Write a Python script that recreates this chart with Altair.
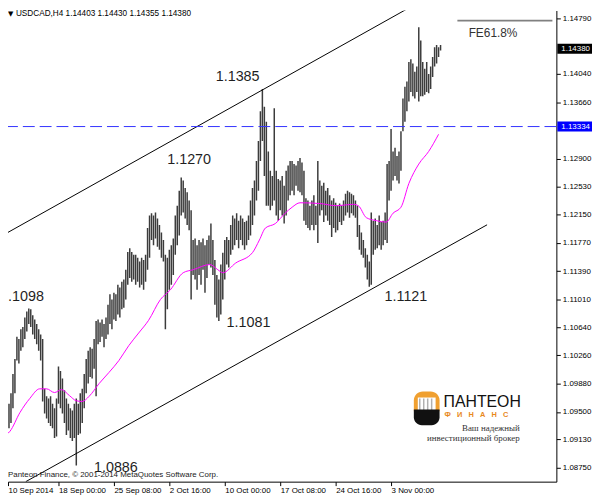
import altair as alt
import pandas as pd

# ---------------- data ----------------
bar_high = [
    1.0988, 1.0945, 1.0952, 1.0961, 1.0975, 1.1001, 1.1021, 1.1051, 1.1048, 1.1061,
    1.1064, 1.1077, 1.1085, 1.1089, 1.1088, 1.1080, 1.1074, 1.1068, 1.1061, 1.1054,
    1.1048, 1.0981, 1.0971, 1.0968, 1.0971, 1.0961, 1.0955, 1.0968, 1.1011, 1.1005,
    1.0995, 1.0979, 1.0968, 1.0961, 1.0955, 1.0952, 1.0961, 1.0968, 1.0961, 1.0975,
    1.0981, 1.1001, 1.1021, 1.1032, 1.1037, 1.1035, 1.1048, 1.1072, 1.1074, 1.1070,
    1.1074, 1.1068, 1.1077, 1.1094, 1.1108, 1.1101, 1.1110, 1.1108, 1.1121, 1.1117,
    1.1125, 1.1128, 1.1141, 1.1165, 1.1170, 1.1165, 1.1161, 1.1161, 1.1157, 1.1152,
    1.1157, 1.1154, 1.1161, 1.1197, 1.1214, 1.1217, 1.1214, 1.1218, 1.1210, 1.1201,
    1.1191, 1.1181, 1.1161, 1.1157, 1.1168, 1.1174, 1.1183, 1.1214, 1.1227, 1.1247,
    1.1265, 1.1261, 1.1251, 1.1245, 1.1234, 1.1221, 1.1181, 1.1183, 1.1174, 1.1181,
    1.1178, 1.1183, 1.1174, 1.1181, 1.1187, 1.1203, 1.1181, 1.1154, 1.1134, 1.1128,
    1.1148, 1.1164, 1.1181, 1.1185, 1.1181, 1.1201, 1.1214, 1.1210, 1.1217, 1.1207,
    1.1214, 1.1210, 1.1205, 1.1207, 1.1214, 1.1234, 1.1251, 1.1261, 1.1287, 1.1314,
    1.1354, 1.1384, 1.1360, 1.1340, 1.1300, 1.1274, 1.1267, 1.1358, 1.1274, 1.1263,
    1.1261, 1.1267, 1.1254, 1.1274, 1.1281, 1.1287, 1.1287, 1.1283, 1.1281, 1.1287,
    1.1291, 1.1285, 1.1274, 1.1237, 1.1234, 1.1227, 1.1234, 1.1241, 1.1227, 1.1287,
    1.1261, 1.1254, 1.1258, 1.1247, 1.1251, 1.1241, 1.1234, 1.1237, 1.1231, 1.1227,
    1.1230, 1.1227, 1.1234, 1.1243, 1.1247, 1.1245, 1.1243, 1.1241, 1.1234, 1.1227,
    1.1201, 1.1191, 1.1181, 1.1170, 1.1161, 1.1152, 1.1218, 1.1207, 1.1210, 1.1201,
    1.1214, 1.1205, 1.1207, 1.1218, 1.1283, 1.1287, 1.1330, 1.1300, 1.1305, 1.1294,
    1.1300, 1.1327, 1.1371, 1.1387, 1.1394, 1.1420, 1.1424, 1.1418, 1.1407, 1.1414,
    1.1467, 1.1449, 1.1420, 1.1411, 1.1420, 1.1404, 1.1414, 1.1427, 1.1440, 1.1443,
    1.1440, 1.1443,
]
bar_low = [
    1.0928, 1.0919, 1.0920, 1.0928, 1.0935, 1.0955, 1.0975, 1.1019, 1.1015, 1.1032,
    1.1037, 1.1048, 1.1058, 1.1068, 1.1064, 1.1054, 1.1048, 1.1041, 1.1032, 1.1019,
    1.0964, 1.0948, 1.0941, 1.0935, 1.0931, 1.0928, 1.0915, 1.0917, 1.0961, 1.0955,
    1.0948, 1.0935, 1.0919, 1.0925, 1.0915, 1.0911, 1.0915, 1.0878, 1.0919, 1.0921,
    1.0935, 1.0955, 1.0975, 1.0988, 1.0997, 1.0995, 1.1008, 1.0971, 1.1041, 1.1044,
    1.1051, 1.1037, 1.1048, 1.1054, 1.1068, 1.1061, 1.1074, 1.1072, 1.1081, 1.1077,
    1.1088, 1.1090, 1.1101, 1.1121, 1.1130, 1.1125, 1.1128, 1.1121, 1.1125, 1.1117,
    1.1121, 1.1114, 1.1125, 1.1141, 1.1157, 1.1181, 1.1174, 1.1183, 1.1172, 1.1168,
    1.1157, 1.1152, 1.1061, 1.1088, 1.1114, 1.1121, 1.1134, 1.1161, 1.1174, 1.1187,
    1.1214, 1.1218, 1.1210, 1.1201, 1.1194, 1.1101, 1.1134, 1.1128, 1.1114, 1.1134,
    1.1121, 1.1141, 1.1110, 1.1130, 1.1148, 1.1144, 1.1134, 1.1094, 1.1077, 1.1072,
    1.1081, 1.1101, 1.1128, 1.1148, 1.1144, 1.1161, 1.1168, 1.1174, 1.1181, 1.1170,
    1.1181, 1.1174, 1.1168, 1.1174, 1.1181, 1.1187, 1.1201, 1.1214, 1.1234, 1.1247,
    1.1287, 1.1314, 1.1267, 1.1227, 1.1227, 1.1221, 1.1227, 1.1234, 1.1214, 1.1207,
    1.1221, 1.1214, 1.1203, 1.1214, 1.1234, 1.1241, 1.1247, 1.1241, 1.1254, 1.1247,
    1.1245, 1.1241, 1.1207, 1.1201, 1.1197, 1.1194, 1.1201, 1.1194, 1.1201, 1.1177,
    1.1214, 1.1221, 1.1205, 1.1214, 1.1207, 1.1201, 1.1185, 1.1197, 1.1191, 1.1194,
    1.1205, 1.1201, 1.1207, 1.1214, 1.1218, 1.1211, 1.1217, 1.1214, 1.1211, 1.1185,
    1.1168, 1.1161, 1.1157, 1.1144, 1.1128, 1.1118, 1.1121, 1.1161, 1.1168, 1.1170,
    1.1174, 1.1168, 1.1174, 1.1181, 1.1177, 1.1234, 1.1247, 1.1261, 1.1267, 1.1261,
    1.1257, 1.1274, 1.1327, 1.1340, 1.1354, 1.1367, 1.1380, 1.1374, 1.1371, 1.1380,
    1.1367, 1.1374, 1.1374, 1.1376, 1.1380, 1.1378, 1.1384, 1.1400, 1.1414, 1.1418,
    1.1427, 1.14355,
]

ma_idx = [0, 3.5, 8.5, 13.5, 18.5, 22, 26, 29.5, 33.5, 37, 40, 43.5, 48.5, 53.5, 58.5,
          63.5, 68.5, 73.5, 79.5, 84.5, 91, 96, 104.5, 108.5, 111, 117.5, 126, 129.5,
          132.5, 137.5, 142.5, 146, 150, 160, 168.5, 177, 179.5, 183.5, 188.5, 193.5,
          197, 201, 205, 210, 215, 220]
ma_val = [1.0917, 1.0924, 1.0949, 1.0968, 1.0981, 1.0981, 1.0976, 1.0980, 1.0972, 1.0965,
          1.0964, 1.0971, 1.0988, 1.1003, 1.1019, 1.1039, 1.1056, 1.1073, 1.1101, 1.1114,
          1.1137, 1.1141, 1.1148, 1.1141, 1.1137, 1.1150, 1.1164, 1.1181, 1.1197, 1.1203,
          1.1217, 1.1225, 1.1231, 1.1230, 1.1227, 1.1229, 1.1227, 1.1211, 1.1207, 1.1205,
          1.1217, 1.1225, 1.1257, 1.1283, 1.1300, 1.1323]

channel_name = ["upper", "upper", "lower", "lower"]
channel_idx = [0, 206, 11.5, 244.5]
channel_val = [1.11875, 1.14943, 1.08563, 1.12014]

level_price = 1.13334
last_price = 1.14380
fe_idx = [229.5, 277.5]
fe_val = [1.14757, 1.14757]

# the first label is cut by the left edge in the picture: only ".1098" shows
label_text = ["1.1385", "1.1270", ".1098", "1.1081", "1.1121", "1.0886"]
label_idx = [118.5, 94, 2.5, 124, 203.5, 57]
label_val = [1.1400, 1.1289, 1.1104, 1.1070, 1.1105, 1.0874]
label_align = ["center", "center", "left", "center", "center", "center"]

x_tick_idx = [2.5, 28, 56, 84, 112, 140, 168, 196]
x_tick_lab = ["10 Sep 2014", "18 Sep 00:00", "25 Sep 08:00", "2 Oct 16:00",
              "10 Oct 00:00", "17 Oct 08:00", "24 Oct 16:00", "3 Nov 00:00"]
y_tick_vals = [1.1479, 1.1404, 1.1366, 1.1290, 1.1253, 1.1215, 1.1177,
               1.1139, 1.1101, 1.1064, 1.1026, 1.0988, 1.0950, 1.0913, 1.0875]

title_text = "USDCAD,H4  1.14403 1.14430 1.14355 1.14380"
copyright_text = "Panteon Finance, \u00a9 2001-2014 MetaQuotes Software Corp."

# ---------------- layout ----------------
W, H = 554, 476
X_DOM = [2.5, 279.5]
Y_DOM = [1.085628, 1.148936]
BOX_I = 289.25
FONT = "Liberation Sans"

label_expr = " : ".join(f"datum.value == {v} ? '{l}'" for v, l in zip(x_tick_idx, x_tick_lab)) + " : ''"

X_AXIS = alt.Axis(values=x_tick_idx, labelExpr=label_expr, orient="bottom", grid=False,
                  title=None, tickSize=4, tickColor="black", domainColor="black",
                  labelFont=FONT, labelFontSize=8, labelColor="black", labelAlign="left",
                  labelBaseline="top", labelPadding=1, labelFlush=False, labelOverlap=False,
                  labelBound=False)
Y_AXIS = alt.Axis(values=y_tick_vals, format=".5f", orient="right", grid=False, title=None,
                  tickSize=4, tickColor="black", domainColor="black", labelFont=FONT,
                  labelFontSize=8, labelColor="black", labelAlign="left",
                  labelBaseline="middle", labelPadding=2, labelFlush=False,
                  labelOverlap=False)


def xq(field):
    return alt.X(field, type="quantitative",
                 scale=alt.Scale(domain=X_DOM, nice=False, zero=False), axis=X_AXIS)


def yq(field):
    return alt.Y(field, type="quantitative",
                 scale=alt.Scale(domain=Y_DOM, nice=False, zero=False), axis=Y_AXIS)


bars_df = pd.DataFrame({"i": list(range(len(bar_high))), "hi": bar_high, "lo": bar_low})
bars = alt.Chart(bars_df).mark_rule(color="#3c3c3c", strokeWidth=1.5, clip=True).encode(
    x=xq("i"), y=yq("lo"), y2="hi")

ma = alt.Chart(pd.DataFrame({"i": ma_idx, "v": ma_val})).mark_line(
    color="#ff00ff", strokeWidth=1, interpolate="monotone", clip=True).encode(
    x=xq("i"), y=yq("v"))

chan = alt.Chart(pd.DataFrame({"n": channel_name, "i": channel_idx, "v": channel_val})).mark_line(
    color="black", strokeWidth=1, clip=True).encode(x=xq("i"), y=yq("v"), detail="n:N")

level = alt.Chart(pd.DataFrame({"p": [level_price]})).mark_rule(
    color="#3333ff", strokeWidth=1, strokeDash=[12, 5]).encode(y=yq("p"))

fe = alt.Chart(pd.DataFrame({"i": fe_idx, "v": fe_val})).mark_line(
    color="#808080", strokeWidth=1.6).encode(x=xq("i"), y=yq("v"))
fe_txt = alt.Chart(pd.DataFrame({"i": [247.5], "v": [1.1459], "t": ["FE61.8%"]})).mark_text(
    font=FONT, fontSize=12, color="#333333", align="center", baseline="middle").encode(
    x=xq("i"), y=yq("v"), text="t:N")

lab_df = pd.DataFrame({"t": label_text, "i": label_idx, "v": label_val, "a": label_align})
labels = alt.layer(*[
    alt.Chart(lab_df[lab_df["a"] == a]).mark_text(
        font=FONT, fontSize=14.5, color="#1f1f1f", align=a, baseline="middle").encode(
        x=xq("i"), y=yq("v"), text="t:N")
    for a in ("center", "left")
])

box_df = pd.DataFrame({"i": [BOX_I, BOX_I], "p": [last_price, level_price],
                       "c": ["#000000", "#0000ff"],
                       "t": [f"{last_price:.5f}", f"{level_price:.5f}"]})
boxes = alt.Chart(box_df).mark_tick(orient="horizontal", thickness=10, size=37, opacity=1).encode(
    x=xq("i"), y=yq("p"), color=alt.Color("c:N", scale=None))
box_txt = alt.Chart(box_df).mark_text(font=FONT, fontSize=8, color="white", align="center",
                                      baseline="middle").encode(x=xq("i"), y=yq("p"), text="t:N")

one = pd.DataFrame({"a": [0]})
title = alt.Chart(one).mark_text(font=FONT, fontSize=8.3, color="black", align="left",
                                 baseline="middle").encode(
    x=alt.value(8), y=alt.value(4), text=alt.value(title_text))
tri = alt.Chart(one).mark_text(font="DejaVu Sans", fontSize=7, color="black", align="left",
                               baseline="middle").encode(
    x=alt.value(0), y=alt.value(4), text=alt.value("\u25bc"))
copy = alt.Chart(one).mark_text(font=FONT, fontSize=8, color="#1a1a1a", align="left",
                                baseline="middle").encode(
    x=alt.value(0), y=alt.value(469), text=alt.value(copyright_text))

# logo (Pantheon Finance) at the bottom right
logo_top = alt.Chart(one).mark_rect(color="#f0a030", cornerRadiusTopLeft=9,
                                    cornerRadiusTopRight=9).encode(
    x=alt.value(410), x2=alt.value(436), y=alt.value(385), y2=alt.value(405))
logo_in = alt.Chart(one).mark_rect(color="white").encode(
    x=alt.value(414), x2=alt.value(432), y=alt.value(391), y2=alt.value(405))
logo_cols = [alt.Chart(one).mark_rule(color="#b0b0b0", strokeWidth=1.5).encode(
    x=alt.value(c), y=alt.value(392), y2=alt.value(404)) for c in (416, 420, 424, 428)]
logo_bot = alt.Chart(one).mark_rect(color="#111111", cornerRadiusBottomLeft=9,
                                    cornerRadiusBottomRight=9).encode(
    x=alt.value(410), x2=alt.value(436), y=alt.value(403), y2=alt.value(419))
logo_name = alt.Chart(one).mark_text(font=FONT, fontSize=16, color="#111111",
                                     align="left", baseline="middle").encode(
    x=alt.value(440), y=alt.value(396), text=alt.value("ПАНТЕОН"))
logo_fin = alt.Chart(one).mark_text(font=FONT, fontSize=7.5, fontWeight="bold",
                                    color="#e8891c", align="left", baseline="middle").encode(
    x=alt.value(441), y=alt.value(409),
    text=alt.value("Ф\u00a0\u00a0\u00a0И\u00a0\u00a0\u00a0Н\u00a0\u00a0\u00a0А\u00a0\u00a0\u00a0Н\u00a0\u00a0\u00a0С"))
logo_s1 = alt.Chart(one).mark_text(font="Liberation Serif", fontSize=9, color="#333333",
                                   align="right", baseline="middle").encode(
    x=alt.value(517), y=alt.value(422), text=alt.value("Ваш надежный"))
logo_s2 = alt.Chart(one).mark_text(font="Liberation Serif", fontSize=9, color="#333333",
                                   align="right", baseline="middle").encode(
    x=alt.value(517), y=alt.value(431.5), text=alt.value("инвестиционный брокер"))

chart = alt.layer(
    bars, ma, chan, level, fe, fe_txt, labels, boxes, box_txt, title, tri, copy,
    logo_top, logo_in, *logo_cols, logo_bot, logo_name, logo_fin, logo_s1, logo_s2,
).properties(
    width=W, height=H,
    padding={"left": 0, "top": 0, "right": 36, "bottom": 14},
    autosize=alt.AutoSizeParams(type="none"),
    background="white",
).configure_view(stroke=None)

chart.save("out.html", embed_options={"renderer": "svg", "actions": False})
